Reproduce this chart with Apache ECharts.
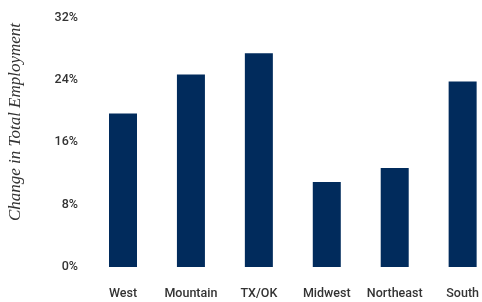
<!DOCTYPE html>
<html><head><meta charset="utf-8">
<script src="https://cdn.jsdelivr.net/npm/echarts@6/dist/echarts.min.js"></script>
<style>html,body{margin:0;padding:0;background:#fff}#c{width:482px;height:302px}</style>
</head><body><div id="c"></div>
<script>
const categories = ['West', 'Mountain', 'TX/OK', 'Midwest', 'Northeast', 'South'];
const values = [19.7, 24.7, 27.4, 10.9, 12.7, 23.8];
const yTicks = [0, 8, 16, 24, 32];
const yTitle = 'Change in Total Employment';

const labelFont = 'Roboto, "Liberation Sans", Arial, sans-serif';
const chart = echarts.init(document.getElementById('c'), null, {renderer: 'canvas'});
chart.setOption({
  animation: false,
  grid: {left: 123, right: 17, top: 17.5, bottom: 35, containLabel: false},
  xAxis: {
    type: 'category', data: categories, boundaryGap: false,
    axisLine: {show: false}, axisTick: {show: false}, splitLine: {show: false},
    axisLabel: {interval: 0, showMinLabel: true, showMaxLabel: true, hideOverlap: false,
      margin: 20, color: '#333', fontSize: 12.5, fontFamily: labelFont, fontWeight: 500}
  },
  yAxis: {
    type: 'value', min: yTicks[0], max: yTicks[yTicks.length - 1], interval: 8,
    axisLine: {show: false}, axisTick: {show: false}, splitLine: {show: false},
    axisLabel: {margin: 45, color: '#333', fontSize: 12.5, fontFamily: labelFont, fontWeight: 500,
      padding: [3, 0, 0, 0], formatter: v => v + '%'}
  },
  graphic: [{
    type: 'text', x: 16, y: 122, rotation: Math.PI / 2,
    style: {text: yTitle, fill: '#333', font: 'italic 17px "Liberation Serif", "DejaVu Serif", serif', textAlign: 'center', textVerticalAlign: 'middle'}
  }],
  series: [{
    type: 'bar', data: values, barWidth: 28, clip: false,
    itemStyle: {color: '#012b5c'}
  }]
});
</script></body></html>
